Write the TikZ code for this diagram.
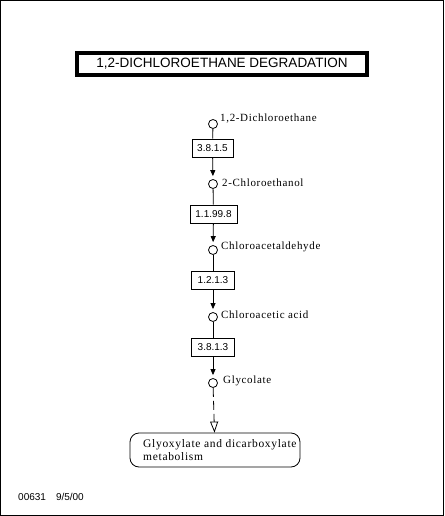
\documentclass[tikz,border=0pt]{standalone}
\usepackage{fontspec}
\setmainfont{Liberation Serif}[LetterSpace=6]
\newfontfamily\sansf{Liberation Sans}
\usetikzlibrary{arrows.meta}
\begin{document}
\begin{tikzpicture}[x=1pt,y=-1pt,
  cpd/.style={circle,draw,line width=0.8pt,minimum size=9pt,inner sep=0pt},
  enz/.style={draw,line width=0.8pt,minimum height=18pt,inner sep=2pt,font=\sansf\fontsize{10}{12}\selectfont},
  lbl/.style={anchor=west,inner sep=0pt,font=\fontsize{11}{13}\selectfont},
  link/.style={line width=0.8pt},
  rxn/.style={line width=0.8pt,-{Triangle[length=6pt,width=5pt]},shorten >=3pt}]
\useasboundingbox (0,0) rectangle (444,516);
\draw[line width=1pt] (0.5,0.5) rectangle (443.5,515.5);
\node[draw,line width=4pt,minimum width=290pt,minimum height=22pt,inner sep=0pt,font=\sansf\fontsize{13.5}{15}\selectfont] (title) at (222,64) {1,2-DICHLOROETHANE DEGRADATION};
\node[cpd] (c1) at (213,124) {};
\node[cpd] (c2) at (213,184) {};
\node[cpd] (c3) at (213,250) {};
\node[cpd] (c4) at (213,317) {};
\node[cpd] (c5) at (213,383) {};
\node[enz,minimum width=41pt] (e1) at (212.5,148) {3.8.1.5};
\node[enz,minimum width=47pt] (e2) at (213.5,214) {1.1.99.8};
\node[enz,minimum width=43pt] (e3) at (213,280) {1.2.1.3};
\node[enz,minimum width=43pt] (e4) at (213,347) {3.8.1.3};
\node[lbl] (l1) at (220,119) {1,2-Dichloroethane};
\node[lbl] (l2) at (222,183) {2-Chloroethanol};
\node[lbl] (l3) at (221,247) {Chloroacetaldehyde};
\node[lbl] (l4) at (221,315) {Chloroacetic acid};
\node[lbl] (l5) at (223,381) {Glycolate};
\node[draw,line width=0.8pt,rounded corners=9pt,minimum width=170pt,minimum height=34pt] (m) at (215,450) {};
\node[anchor=west,inner sep=0pt,align=left,font=\fontsize{11.5}{13}\selectfont] (mt) at (143,450) {Glyoxylate and dicarboxylate\\metabolism};
\node[anchor=west,inner sep=0pt,font=\sansf\fontsize{10}{12}\selectfont] (foot) at (18,497) {00631\hspace{10pt}9/5/00};
\draw[link] (c1) -- (e1);
\draw[rxn] (e1) -- (c2);
\draw[link] (c2) -- (e2);
\draw[rxn] (e2) -- (c3);
\draw[link] (c3) -- (e3);
\draw[rxn] (e3) -- (c4);
\draw[link] (c4) -- (e4);
\draw[rxn] (e4) -- (c5);
\draw[line width=0.8pt,dash pattern=on 9pt off 4pt,-{Triangle[open,length=11pt,width=8pt]}] (c5) -- (m);
\end{tikzpicture}
\end{document}
